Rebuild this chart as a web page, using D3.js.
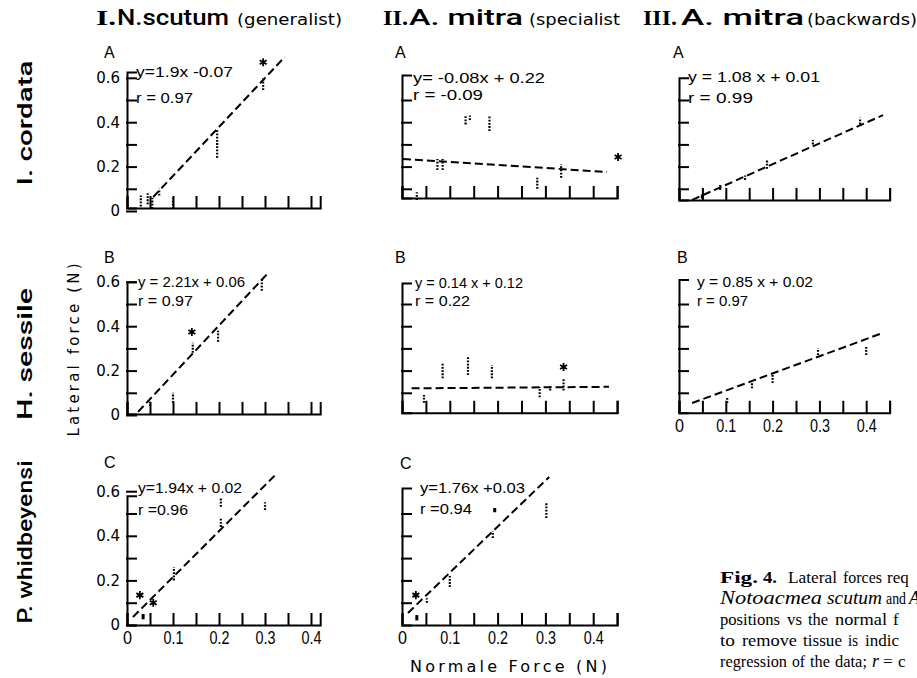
<!DOCTYPE html>
<html><head><meta charset="utf-8">
<script src="https://cdn.jsdelivr.net/npm/d3@7"></script>
<style>body{margin:0;background:#fff} svg{display:block}</style>
</head><body><svg id="c" width="917" height="678"></svg>
<script>
// ---------------- DATA ----------------
// clusters: [normal force, lateral low, lateral high]; stars: [x, y]; fit: regression line ends
const clustersIA = [[0.03,0.02,0.07],[0.045,0.03,0.08],[0.055,0.01,0.06],[0.07,0.07,0.10],[0.10,0.01,0.06],[0.196,0.24,0.365],[0.296,0.545,0.60]];
const starsIA = [[0.296,0.67]];
const fitIA = [[0.057,0.063],[0.343,0.694]];
const eqIA = ["y=1.9x -0.07", "r = 0.97"];

const clustersIIA = [[0.031,0.05,0.085],[0.074,0.185,0.234],[0.085,0.185,0.234],[0.133,0.39,0.43],[0.142,0.41,0.43],[0.183,0.36,0.43],[0.283,0.10,0.15],[0.333,0.15,0.21]];
const starsIIA = [[0.452,0.243]];
const fitIIA = [[0.002,0.234],[0.429,0.176]];
const eqIIA = ["y= -0.08x + 0.22", "r = -0.09"];

const clustersIIIA = [[0.05,0.06,0.07],[0.088,0.095,0.117],[0.141,0.14,0.16],[0.188,0.19,0.23],[0.286,0.30,0.32],[0.387,0.39,0.42]];
const starsIIIA = [];
const fitIIIA = [[0.028,0.05],[0.436,0.432]];
const eqIIIA = ["y = 1.08 x + 0.01", "r = 0.99"];

const clustersIB = [[0.05,0.04,0.06],[0.10,0.055,0.10],[0.143,0.28,0.325],[0.198,0.33,0.38],[0.293,0.56,0.61]];
const starsIB = [[0.141,0.374]];
const fitIB = [[0.024,0.014],[0.307,0.64]];
const eqIB = ["y = 2.21x + 0.06", "r = 0.97"];

const clustersIIB = [[0.046,0.055,0.09],[0.085,0.165,0.235],[0.138,0.18,0.26],[0.188,0.165,0.225],[0.288,0.08,0.126],[0.31,0.11,0.13],[0.338,0.11,0.167]];
const starsIIB = [[0.338,0.216]];
const fitIIB = [[0.02,0.12],[0.433,0.127]];
const eqIIB = ["y = 0.14 x + 0.12", "r = 0.22"];

const clustersIIIB = [[0.103,0.054,0.08],[0.156,0.12,0.145],[0.2,0.144,0.18],[0.297,0.27,0.30],[0.4,0.27,0.306]];
const starsIIIB = [];
const fitIIIB = [[0.028,0.054],[0.436,0.37]];
const eqIIIB = ["y = 0.85 x + 0.02", "r = 0.97"];

const clustersIC = [[0.035,0.03,0.045],[0.102,0.2,0.26],[0.204,0.53,0.57],[0.204,0.44,0.48],[0.30,0.516,0.55]];
const starsIC = [[0.028,0.134],[0.057,0.10]];
const fitIC = [[0.013,0.036],[0.326,0.68]];
const eqIC = ["y=1.94x + 0.02", "r =0.96"];

const clustersIIC = [[0.031,0.025,0.04],[0.052,0.10,0.12],[0.1,0.17,0.22],[0.19,0.39,0.42],[0.194,0.51,0.52],[0.302,0.48,0.55]];
const starsIIC = [[0.029,0.134]];
const fitIIC = [[0.0125,0.054],[0.308,0.664]];
const eqIIC = ["y=1.76x +0.03", "r =0.94"];

const panelLetters = ["A","A","A","B","B","B","C","C"];
const yTickValues = [0,0.1,0.2,0.3,0.4,0.5,0.6];
const xTickValues = [0,0.05,0.1,0.15,0.2,0.25,0.3,0.35,0.4,0.45];

const headerNumerals = ["I.", "II.", "III."];
const headerSpecies = ["N.scutum", "A. mitra", "A. mitra"];
const headerNotes = ["(generalist)", "(specialist", "(backwards)"];
const rowLabels = ["I. cordata", "H. sessile", "P. whidbeyensi"];
const yTitle = "Lateral force (N)";
const xTitle = "Normale Force (N)";
const captionLines = [
  [["Fig.","b"],["4.","b"],["Lateral"],["forces"],["req"]],
  [["Notoacmea","i"],["scutum","i"],["and"],["Ac","i"]],
  [["positions"],["vs"],["the"],["normal"],["f"]],
  [["to"],["remove"],["tissue"],["is"],["indic"]],
  [["regression"],["of"],["the"],["data;"],["r","i"],["="],["c"]]
];

// ---------------- LAYOUT ----------------
const cols = [{x0:127,max:0.42,k:460},{x0:402,max:0.45,k:478},{x0:679,max:0.45,k:468}];
const rows = [{y0:211,k:222},{y0:415,k:222},{y0:625,k:223}];
const panels = [
  {col:0,row:0,cl:clustersIA,st:starsIA,fit:fitIA,eq:eqIA,axisY:[0.0135,0.626],yLab:true,xLab:false,eqX:136,eqY:[77,103],eqW:[97,57],let:[104,58]},
  {col:1,row:0,cl:clustersIIA,st:starsIIA,fit:fitIIA,eq:eqIIA,axisY:[0.0585,0.613],yLab:false,xLab:false,eqX:413,eqY:[83,100],eqW:[132,70],let:[395,58]},
  {col:2,row:0,cl:clustersIIIA,st:starsIIIA,fit:fitIIIA,eq:eqIIIA,axisY:[0.05,0.6],yLab:false,xLab:false,eqX:688,eqY:[82,103],eqW:[132,65],let:[673,58]},
  {col:0,row:1,cl:clustersIB,st:starsIB,fit:fitIB,eq:eqIB,axisY:[0.005,0.6],yLab:true,xLab:false,eqX:138,eqY:[287,306],eqW:[107,55],let:[104,263]},
  {col:1,row:1,cl:clustersIIB,st:starsIIB,fit:fitIIB,eq:eqIIB,axisY:[0.01,0.595],yLab:false,xLab:false,eqX:415,eqY:[288,306],eqW:[108,55],let:[395,263]},
  {col:2,row:1,cl:clustersIIIB,st:starsIIIB,fit:fitIIIB,eq:eqIIIB,axisY:[0.01,0.61],yLab:false,xLab:true,eqX:697,eqY:[287,306],eqW:[116,51],let:[677,263]},
  {col:0,row:2,cl:clustersIC,st:starsIC,fit:fitIC,eq:eqIC,axisY:[0,0.58],yLab:true,xLab:true,eqX:138,eqY:[493,515],eqW:[104,50],let:[104,468]},
  {col:1,row:2,cl:clustersIIC,st:starsIIC,fit:fitIIC,eq:eqIIC,axisY:[0,0.614],yLab:false,xLab:true,eqX:420,eqY:[493,514],eqW:[105,52],let:[400,469]}
];

const svg = d3.select("#c");
const SANS = "'Liberation Sans', Arial, sans-serif";

function styleAxis(g){
  g.attr("font-family", null).attr("font-size", null);
  g.selectAll("path,line").attr("stroke","#000").attr("stroke-width",2).attr("stroke-linecap","square");
  g.selectAll("text").attr("fill","#000");
}

panels.forEach((p, i) => {
  const c = cols[p.col], r = rows[p.row];
  const x = d3.scaleLinear().domain([0, c.max]).range([c.x0, c.x0 + c.max * c.k]);
  const y = d3.scaleLinear().domain([0, 0.6]).range([r.y0, r.y0 - 0.6 * r.k]);
  const g = svg.append("g");
  const [lo, hi] = p.axisY;
  const ya = d3.scaleLinear().domain([lo, hi]).range([y(lo), y(hi)]);
  const yt = p.yLab ? yTickValues : yTickValues.filter(v => v > 0.05 && v < 0.55);
  const yAxis = d3.axisLeft(ya).tickValues(yt).tickSize(-9).tickSizeOuter(-9).tickPadding(7)
    .tickFormat(v => { const t = Math.round(v * 10); return p.yLab && t % 2 === 0 ? (t === 0 ? "0" : (t / 10).toFixed(1)) : ""; });
  const gy = g.append("g").attr("transform", `translate(${c.x0},0)`).call(yAxis);
  styleAxis(gy);
  gy.selectAll("text").attr("font-family", "'DejaVu Sans', sans-serif").attr("font-size", 15);

  const xa = d3.scaleLinear().domain([0, c.max]).range([c.x0, c.x0 + c.max * c.k]);
  const xt = xTickValues.filter(v => v <= c.max + 1e-9);
  const xAxis = d3.axisBottom(xa).tickValues(xt).tickSize(-11).tickSizeOuter(-11).tickPadding(6)
    .tickFormat(v => { const t = Math.round(v * 100); return p.xLab && t % 10 === 0 ? (t === 0 ? "0" : (t / 100).toFixed(1)) : ""; });
  const gx = g.append("g").attr("transform", `translate(0,${y(lo)})`).call(xAxis);
  styleAxis(gx);
  gx.selectAll("text").attr("font-family", SANS).attr("font-size", 18)
    .each(function(){ const s = d3.select(this); const t = s.text(); if (t) s.attr("textLength", t === "0" ? 9 : 20).attr("lengthAdjust","spacingAndGlyphs"); });

  // regression line
  g.append("path").datum(p.fit)
    .attr("d", d3.line().x(d => x(d[0])).y(d => y(d[1])))
    .attr("fill","none").attr("stroke","#000").attr("stroke-width",2).attr("stroke-dasharray","8,4");

  // data clusters
  p.cl.forEach(d => {
    const y1 = y(d[1]), y2 = y(d[2]);
    if (Math.abs(y1 - y2) < 4) {
      g.append("rect").attr("x", x(d[0]) - 1.5).attr("y", Math.min(y1, y2) - 1).attr("width", 3).attr("height", Math.abs(y1 - y2) + 2).attr("fill","#000");
    } else {
      g.append("line").attr("x1", x(d[0])).attr("x2", x(d[0])).attr("y1", y1).attr("y2", y2)
        .attr("stroke","#000").attr("stroke-width",2.2).attr("stroke-dasharray","1.8,1.4");
    }
  });
  // asterisks
  const symType = d3.symbolAsterisk || d3.symbolStar;
  p.st.forEach(d => {
    g.append("path").attr("d", d3.symbol().type(symType).size(45)())
      .attr("transform", `translate(${x(d[0])},${y(d[1])})`)
      .attr("fill", d3.symbolAsterisk ? "none" : "#000").attr("stroke","#000").attr("stroke-width",1.8);
  });
  // equations
  p.eq.forEach((t, j) => {
    g.append("text").attr("x", p.eqX).attr("y", p.eqY[j]).text(t)
      .attr("font-family", SANS).attr("font-size", 15).attr("fill","#000")
      .attr("textLength", p.eqW[j]).attr("lengthAdjust","spacingAndGlyphs");
  });
  // panel letter
  g.append("text").attr("x", p.let[0]).attr("y", p.let[1]).text(panelLetters[i])
    .attr("font-family", SANS).attr("font-size", 16).attr("fill","#000");
});

// headers
const hdrY = 25;
const numX = [96,383,643], numW = [20,25,34];
const spX = [117,409,681], spW = [112,114,123];
const noX = [237,529,807], noW = [105,91,110];
headerNumerals.forEach((t,i) => {
  svg.append("text").attr("x", numX[i]).attr("y", hdrY).text(t)
    .attr("font-family","'Liberation Serif', serif").attr("font-weight","bold").attr("font-size",21)
    .attr("textLength", numW[i]).attr("lengthAdjust","spacingAndGlyphs");
  svg.append("text").attr("x", spX[i]).attr("y", hdrY).text(headerSpecies[i])
    .attr("font-family","Roboto, 'DejaVu Sans', sans-serif").attr("font-weight",500).attr("font-size",22)
    .attr("textLength", spW[i]).attr("lengthAdjust","spacingAndGlyphs");
  svg.append("text").attr("x", noX[i]).attr("y", hdrY).text(headerNotes[i])
    .attr("font-family","'DejaVu Sans', sans-serif").attr("font-size",15)
    .attr("textLength", noW[i]).attr("lengthAdjust","spacingAndGlyphs");
});

// row labels (rotated)
const rlY = [123,354,542], rlW = [125,132,163];
rowLabels.forEach((t,i) => {
  svg.append("text").attr("transform", `translate(32,${rlY[i]}) rotate(-90)`)
    .attr("text-anchor","middle").text(t)
    .attr("font-family","Roboto, 'DejaVu Sans', sans-serif").attr("font-weight",500).attr("font-size",20)
    .attr("textLength", rlW[i]).attr("lengthAdjust","spacingAndGlyphs");
});
svg.append("text").attr("transform","translate(79,350) rotate(-90)").attr("text-anchor","middle").text(yTitle)
  .attr("font-family","'DejaVu Sans', sans-serif").attr("font-size",15)
  .attr("textLength",173).attr("lengthAdjust","spacing");
svg.append("text").attr("x",410).attr("y",672).text(xTitle)
  .attr("font-family","'DejaVu Sans', sans-serif").attr("font-size",16)
  .attr("textLength",197).attr("lengthAdjust","spacing");

// caption (justified words, clipped by the page edge as in the source)
const capX = [[720,763,788,843,887],[720,827,886,909],[720,787,808,835,893],[720,742,803,848,865],[720,792,810,835,872,883,898]];
const capW = [[38,14,49,39,0],[102,55,20,0],[60,15,20,52,0],[15,55,39,10,0],[67,13,20,32,0,0,0]];
const capY = [583,604,625,646,667];
captionLines.forEach((line, li) => {
  line.forEach((w, wi) => {
    const t = svg.append("text").attr("x", capX[li][wi]).attr("y", capY[li]).text(w[0])
      .attr("font-family","'Liberation Serif', 'Times New Roman', serif")
      .attr("font-size", w[1] === "i" ? 18 : 17)
      .attr("font-weight", w[1] === "b" ? "bold" : null)
      .attr("font-style", w[1] === "i" ? "italic" : null).attr("fill","#000");
    if (capW[li][wi]) t.attr("textLength", capW[li][wi]).attr("lengthAdjust","spacingAndGlyphs");
  });
});
</script></body></html>
